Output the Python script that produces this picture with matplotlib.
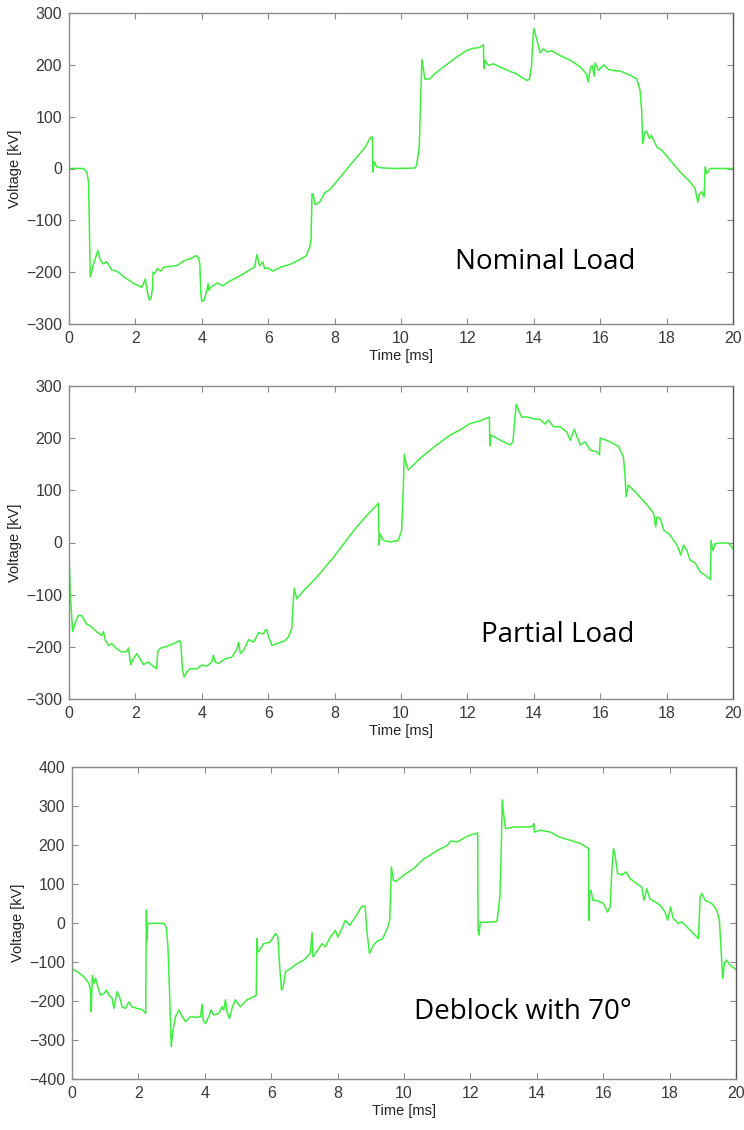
import matplotlib
matplotlib.use("Agg")
import matplotlib.pyplot as plt

# ---------------- data (time in ms, voltage in kV) ----------------
nominal_load = [
    (0.00, 0), (0.43, 0), (0.54, -7), (0.59, -26), (0.64, -209), (0.74, -184), (0.87, -158),
    (0.94, -177), (1.04, -184), (1.14, -180), (1.29, -196), (1.44, -198), (1.65, -209),
    (1.95, -222), (2.20, -229), (2.30, -213), (2.35, -235), (2.42, -254), (2.47, -251),
    (2.52, -229), (2.53, -200), (2.58, -203), (2.66, -193), (2.76, -198), (2.86, -190),
    (3.06, -189), (3.26, -187), (3.46, -178), (3.67, -174), (3.82, -168), (3.89, -171),
    (3.94, -184), (3.97, -241), (4.00, -256), (4.07, -254), (4.15, -235), (4.19, -222),
    (4.21, -235), (4.27, -229), (4.47, -221), (4.63, -226), (4.88, -216), (5.18, -206),
    (5.43, -196), (5.59, -190), (5.66, -166), (5.74, -188), (5.84, -180), (5.89, -193),
    (5.99, -192), (6.14, -198), (6.39, -190), (6.70, -184), (7.00, -174), (7.15, -168),
    (7.25, -151), (7.29, -138), (7.32, -49), (7.35, -49), (7.42, -70), (7.55, -65),
    (7.70, -47), (7.85, -41), (8.01, -29), (8.50, 9), (8.92, 41), (9.07, 59), (9.14, 61),
    (9.15, -7), (9.19, 13), (9.27, 3), (9.47, 1), (9.87, 0), (10.42, 1), (10.47, 6),
    (10.55, 41), (10.59, 131), (10.63, 210), (10.67, 193), (10.72, 172), (10.87, 173),
    (11.02, 183), (11.28, 196), (11.68, 215), (11.98, 228), (12.18, 232), (12.33, 233),
    (12.38, 234), (12.48, 239), (12.50, 193), (12.53, 209), (12.63, 199), (12.78, 202),
    (13.08, 193), (13.49, 182), (13.79, 170), (13.87, 172), (13.93, 196), (13.97, 247),
    (14.00, 270), (14.07, 254), (14.19, 223), (14.29, 231), (14.39, 225), (14.54, 227),
    (14.79, 218), (15.10, 209), (15.40, 196), (15.58, 183), (15.64, 167), (15.70, 193),
    (15.76, 199), (15.82, 178), (15.85, 204), (15.95, 189), (16.10, 200), (16.25, 191),
    (16.40, 189), (16.60, 188), (16.90, 180), (17.10, 173), (17.20, 151), (17.25, 112),
    (17.28, 48), (17.35, 70), (17.40, 72), (17.48, 58), (17.54, 64), (17.71, 41),
    (17.86, 35), (18.11, 16), (18.41, -7), (18.71, -26), (18.86, -39), (18.94, -65),
    (18.99, -49), (19.06, -45), (19.13, -55), (19.16, 3), (19.21, -10), (19.31, 0), (20.00, 0),
]

partial_load = [
    (0.00, -20), (0.04, -98), (0.11, -171), (0.18, -155), (0.28, -140), (0.38, -140),
    (0.53, -156), (0.68, -162), (0.83, -171), (0.98, -178), (1.04, -171), (1.09, -187),
    (1.19, -197), (1.29, -194), (1.44, -204), (1.59, -210), (1.74, -209), (1.79, -202),
    (1.86, -234), (1.94, -223), (2.04, -213), (2.14, -223), (2.24, -234), (2.39, -229),
    (2.49, -235), (2.64, -242), (2.67, -210), (2.70, -207), (2.74, -203), (2.94, -199),
    (3.15, -194), (3.33, -188), (3.37, -194), (3.42, -245), (3.47, -258), (3.55, -248),
    (3.65, -242), (3.85, -242), (4.00, -235), (4.15, -237), (4.30, -229), (4.35, -216),
    (4.40, -229), (4.50, -232), (4.70, -223), (4.90, -220), (5.06, -204), (5.11, -191),
    (5.16, -213), (5.26, -207), (5.41, -186), (5.56, -191), (5.71, -173), (5.86, -175),
    (5.91, -168), (5.96, -167), (6.01, -181), (6.11, -197), (6.26, -194), (6.51, -188),
    (6.61, -181), (6.71, -165), (6.74, -130), (6.78, -88), (6.86, -108), (7.07, -92),
    (7.47, -66), (7.97, -28), (8.47, 14), (8.67, 30), (8.97, 52), (9.32, 75), (9.34, -5),
    (9.37, 16), (9.47, 4), (9.67, 1), (9.92, 4), (10.02, 24), (10.07, 107), (10.10, 169),
    (10.15, 152), (10.22, 139), (10.57, 161), (11.03, 185), (11.48, 206), (11.78, 216),
    (12.08, 228), (12.38, 233), (12.63, 240), (12.66, 240), (12.68, 185), (12.71, 206),
    (12.88, 200), (13.09, 193), (13.29, 187), (13.37, 193), (13.41, 222), (13.47, 265),
    (13.54, 254), (13.64, 240), (13.79, 241), (13.99, 237), (14.19, 236), (14.34, 227),
    (14.44, 235), (14.59, 222), (14.79, 222), (14.99, 212), (15.10, 196), (15.22, 217),
    (15.30, 203), (15.40, 187), (15.55, 193), (15.70, 177), (15.90, 174), (15.98, 168),
    (16.00, 200), (16.10, 198), (16.30, 193), (16.55, 184), (16.70, 164), (16.75, 126),
    (16.78, 88), (16.85, 110), (17.10, 94), (17.41, 72), (17.61, 56), (17.67, 30),
    (17.71, 49), (17.81, 46), (17.91, 24), (18.11, 14), (18.31, -5), (18.43, -24),
    (18.51, -5), (18.61, -15), (18.71, -34), (18.86, -39), (19.01, -56), (19.17, -63),
    (19.32, -71), (19.34, 4), (19.39, -15), (19.47, -2), (19.62, -1), (19.87, -1), (20.00, -12),
]

deblock_70 = [
    (0.00, -117), (0.16, -125), (0.36, -138), (0.51, -155), (0.56, -172), (0.58, -228),
    (0.61, -134), (0.66, -155), (0.71, -142), (0.78, -164), (0.86, -185), (0.96, -181),
    (1.04, -172), (1.11, -185), (1.21, -193), (1.26, -219), (1.31, -197), (1.36, -176),
    (1.43, -189), (1.51, -215), (1.61, -219), (1.71, -202), (1.81, -215), (1.96, -219),
    (2.12, -222), (2.22, -232), (2.24, 33), (2.26, -44), (2.28, -1), (2.37, -1), (2.57, -1),
    (2.77, -1), (2.84, -10), (2.89, -61), (2.94, -181), (2.99, -317), (3.04, -275),
    (3.12, -240), (3.22, -223), (3.32, -240), (3.42, -253), (3.57, -240), (3.72, -242),
    (3.87, -240), (3.92, -208), (3.95, -249), (4.02, -258), (4.12, -240), (4.19, -223),
    (4.27, -236), (4.42, -232), (4.52, -215), (4.57, -223), (4.62, -197), (4.67, -228),
    (4.74, -245), (4.82, -219), (4.92, -197), (5.07, -215), (5.27, -197), (5.47, -189),
    (5.55, -185), (5.57, -40), (5.59, -70), (5.62, -74), (5.77, -53), (5.97, -49),
    (6.13, -27), (6.20, -35), (6.25, -104), (6.31, -172), (6.36, -164), (6.43, -125),
    (6.58, -117), (6.78, -104), (6.98, -95), (7.18, -78), (7.23, -25), (7.26, -87),
    (7.33, -78), (7.43, -66), (7.53, -53), (7.63, -61), (7.78, -36), (7.93, -19),
    (8.01, -36), (8.13, -14), (8.23, 7), (8.36, -6), (8.53, 15), (8.73, 43), (8.83, 43),
    (8.88, -19), (8.96, -78), (9.08, -57), (9.20, -46), (9.35, -41), (9.50, -14),
    (9.57, 7), (9.62, 144), (9.68, 110), (9.75, 106), (10.00, 123), (10.30, 140),
    (10.60, 165), (10.70, 169), (11.00, 186), (11.30, 199), (11.40, 210), (11.60, 208),
    (11.90, 222), (12.10, 228), (12.22, 231), (12.23, -18), (12.25, -31), (12.30, 2),
    (12.50, 2), (12.80, 4), (12.89, 67), (12.93, 195), (12.96, 316), (13.01, 272),
    (13.06, 242), (13.31, 246), (13.71, 246), (13.88, 248), (13.91, 255), (13.93, 233),
    (14.11, 238), (14.41, 233), (14.66, 221), (15.01, 212), (15.31, 204), (15.56, 191),
    (15.57, 7), (15.59, 76), (15.63, 84), (15.69, 58), (15.81, 58), (16.01, 50),
    (16.13, 28), (16.21, 41), (16.26, 135), (16.31, 191), (16.36, 174), (16.43, 127),
    (16.56, 123), (16.69, 131), (16.81, 114), (17.01, 101), (17.16, 92), (17.23, 58),
    (17.31, 88), (17.41, 62), (17.56, 54), (17.71, 46), (17.86, 29), (17.94, 7),
    (18.03, 41), (18.11, 11), (18.27, -1), (18.37, 3), (18.52, -10), (18.72, -27),
    (18.87, -40), (18.92, 67), (18.97, 76), (19.07, 58), (19.27, 50), (19.42, 33),
    (19.50, 7), (19.54, -53), (19.60, -142), (19.65, -104), (19.72, -95), (19.82, -108),
    (20.00, -119),
]

panel_titles = ["Nominal Load", "Partial Load", "Deblock with 70°"]
x_ticks = [0, 2, 4, 6, 8, 10, 12, 14, 16, 18, 20]
y_ticks_top = [-300, -200, -100, 0, 100, 200, 300]
y_ticks_bottom = [-400, -300, -200, -100, 0, 100, 200, 300, 400]

# ---------------- layout ----------------
W, H = 744, 1130
fig = plt.figure(figsize=(W / 100, H / 100), dpi=100)
fig.patch.set_facecolor("white")

# axes boxes in pixels: (left, top, right, bottom)
boxes = [(69, 13, 733, 324), (69, 386, 733, 699), (72, 767, 736, 1079)]
label_pos = [(545, 262), (558, 635), (523, 1012)]
series = [nominal_load, partial_load, deblock_70]
yticks_list = [y_ticks_top, y_ticks_top, y_ticks_bottom]

line_color = "#3ef03e"
spine_color = "#8a8a8a"
text_color = "#3a3a3a"
tick_font = "Liberation Sans"

for data, (l, t, r, b), ytk, title, (tx, ty) in zip(series, boxes, yticks_list, panel_titles, label_pos):
    ax = fig.add_axes([l / W, 1 - b / H, (r - l) / W, (b - t) / H])
    tt = [p[0] for p in data]
    vv = [p[1] for p in data]
    ax.plot(tt, vv, color=line_color, lw=1.1)
    ax.set_xlim(0, 20)
    ax.set_ylim(ytk[0], ytk[-1])
    ax.set_xticks(x_ticks)
    ax.set_yticks(ytk)
    ax.tick_params(direction="in", top=True, right=True, length=4, width=0.8,
                   color=spine_color, labelcolor=text_color, labelsize=11.5, pad=5)
    for lab in ax.get_xticklabels() + ax.get_yticklabels():
        lab.set_fontfamily(tick_font)
    for sp in ax.spines.values():
        sp.set_color(spine_color)
        sp.set_linewidth(1.0)
    ax.spines["right"].set_color("#555555")
    ax.set_xlabel("Time [ms]", fontsize=10.5, color="#222222", family=tick_font, labelpad=2)
    ax.set_ylabel("Voltage [kV]", fontsize=10.5, color="#222222", family=tick_font, labelpad=3)
    fig.text(tx / W, 1 - ty / H, title, ha="center", va="center", fontsize=20,
             family="Open Sans", color="black")

fig.savefig("out.png", dpi=100, facecolor="white")
